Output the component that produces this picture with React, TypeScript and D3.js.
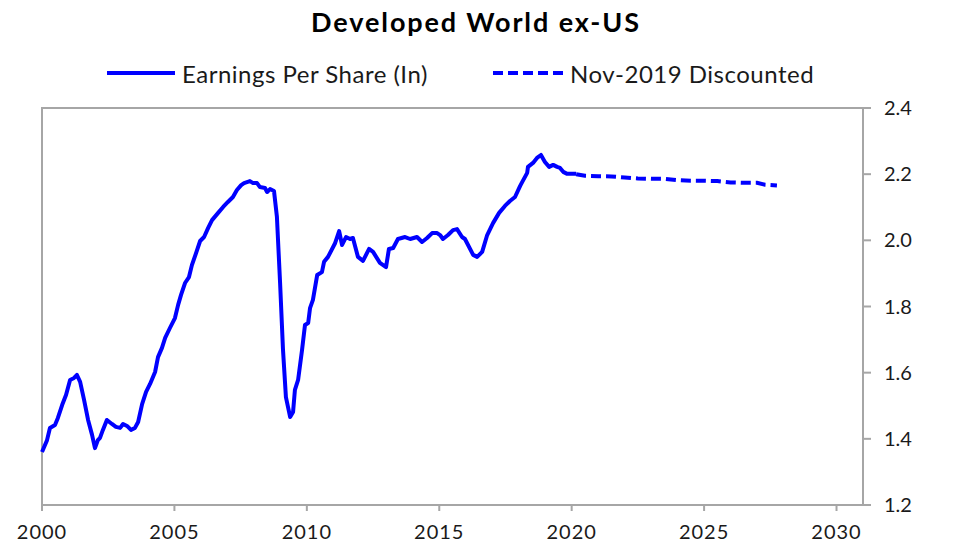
import React from "react";
import * as d3 from "d3";

// actual EPS (ln), decimal years
const epsYears = [
  2000.0, 2000.19, 2000.3, 2000.49, 2000.6, 2000.76, 2000.91, 2001.06, 2001.21, 2001.32,
  2001.44, 2001.59, 2001.74, 2001.89, 2002.0, 2002.11, 2002.19, 2002.3, 2002.45, 2002.64,
  2002.79, 2002.95, 2003.06, 2003.21, 2003.36, 2003.51, 2003.63, 2003.78, 2003.93, 2004.08,
  2004.27, 2004.38, 2004.53, 2004.65, 2004.83, 2005.02, 2005.14, 2005.25, 2005.4, 2005.55,
  2005.66, 2005.82, 2005.97, 2006.12, 2006.27, 2006.42, 2006.65, 2006.84, 2007.02, 2007.21,
  2007.36, 2007.52, 2007.63, 2007.85, 2007.97, 2008.12, 2008.23, 2008.42, 2008.5, 2008.61,
  2008.76, 2008.87, 2008.99, 2009.1, 2009.21, 2009.29, 2009.37, 2009.48, 2009.55, 2009.67,
  2009.82, 2009.93, 2010.05, 2010.12, 2010.23, 2010.39, 2010.57, 2010.65, 2010.8, 2011.07,
  2011.22, 2011.33, 2011.48, 2011.63, 2011.74, 2011.93, 2012.12, 2012.35, 2012.5, 2012.76,
  2012.99, 2013.1, 2013.26, 2013.44, 2013.71, 2013.9, 2014.16, 2014.35, 2014.54, 2014.73,
  2014.92, 2015.03, 2015.14, 2015.33, 2015.52, 2015.67, 2015.86, 2015.97, 2016.28, 2016.43,
  2016.62, 2016.81, 2017.03, 2017.26, 2017.48, 2017.67, 2017.86, 2018.05, 2018.13, 2018.32,
  2018.35, 2018.54, 2018.69, 2018.84, 2018.99, 2019.15, 2019.3, 2019.45, 2019.56, 2019.68,
  2019.83, 2020.17,
];
const epsValues = [
  1.36, 1.396, 1.433, 1.442, 1.463, 1.502, 1.533, 1.578, 1.584, 1.593,
  1.572, 1.517, 1.457, 1.412, 1.372, 1.396, 1.403, 1.427, 1.457, 1.445,
  1.436, 1.433, 1.445, 1.439, 1.427, 1.433, 1.451, 1.505, 1.542, 1.566,
  1.602, 1.647, 1.675, 1.705, 1.735, 1.765, 1.805, 1.835, 1.871, 1.889,
  1.925, 1.962, 1.998, 2.01, 2.037, 2.061, 2.083, 2.101, 2.116, 2.131,
  2.152, 2.167, 2.173, 2.179, 2.173, 2.173, 2.161, 2.158, 2.146, 2.155,
  2.149, 2.071, 1.871, 1.669, 1.526, 1.496, 1.466, 1.481, 1.548, 1.578,
  1.669, 1.744, 1.75, 1.795, 1.82, 1.895, 1.904, 1.935, 1.95, 1.992,
  2.028, 1.986, 2.01, 2.004, 2.007, 1.95, 1.938, 1.974, 1.965, 1.932,
  1.919, 1.974, 1.977, 2.004, 2.01, 2.004, 2.01, 1.995, 2.007, 2.022,
  2.022, 2.016, 2.004, 2.016, 2.031, 2.034, 2.01, 2.004, 1.956, 1.95,
  1.965, 2.016, 2.052, 2.083, 2.104, 2.119, 2.131, 2.164, 2.176, 2.204,
  2.222, 2.234, 2.249, 2.258, 2.237, 2.222, 2.228, 2.222, 2.219, 2.207,
  2.201, 2.201,
];

// Nov-2019 discounted projection
const projYears = [
  2020.17, 2020.5, 2021.0, 2021.5, 2022.0, 2022.5, 2023.0, 2023.5, 2024.0,
  2024.5, 2025.0, 2025.5, 2026.0, 2026.5, 2027.0, 2027.3, 2027.75,
];
const projValues = [
  2.2, 2.195, 2.194, 2.193, 2.19, 2.187, 2.186, 2.186, 2.182,
  2.18, 2.18, 2.179, 2.175, 2.174, 2.174, 2.168, 2.166,
];

const xTicks = [2000, 2005, 2010, 2015, 2020, 2025, 2030];
const yTicks = [1.2, 1.4, 1.6, 1.8, 2.0, 2.2, 2.4];

const W = 961;
const H = 549;
const left = 42;
const right = 863;
const top = 108;
const bottom = 505;
const axisColor = "#a6a6a6";
const lineColor = "#0000ff";
const textColor = "#1a1a1a";
const font = "Lato, 'Open Sans', sans-serif";

export default function App() {
  const x = d3.scaleLinear().domain([2000, 2031]).range([left, right]);
  const y = d3.scaleLinear().domain([1.2, 2.4]).range([bottom, top]);

  const lineGen = d3
    .line<[number, number]>()
    .x((d) => x(d[0]))
    .y((d) => y(d[1]));
  const epsPath = lineGen(epsYears.map((t, i) => [t, epsValues[i]]));
  const projPath = lineGen(projYears.map((t, i) => [t, projValues[i]]));

  return (
    <div style={{ position: "absolute", left: 0, top: 0 }}>
      <svg width={W} height={H} style={{ display: "block", background: "#fff" }}>
        <text
          x={476}
          y={32}
          textAnchor="middle"
          fontFamily={font}
          fontWeight="bold"
          fontSize={27}
          letterSpacing={1.9}
          fill="#000"
        >
          Developed World ex-US
        </text>

        {/* legend */}
        <line x1={107} x2={175} y1={73} y2={73} stroke={lineColor} strokeWidth={4} />
        <text x={182} y={83} fontFamily={font} fontSize={24} letterSpacing={0.5} fill={textColor}>
          Earnings Per Share (In)
        </text>
        <line
          x1={493}
          x2={563}
          y1={73}
          y2={73}
          stroke={lineColor}
          strokeWidth={4}
          strokeDasharray="10 5"
        />
        <text x={570} y={83} fontFamily={font} fontSize={24} letterSpacing={0.5} fill={textColor}>
          Nov-2019 Discounted
        </text>

        {/* frame */}
        <line x1={left} x2={right} y1={top} y2={top} stroke={axisColor} strokeWidth={2} />
        <line x1={left} x2={left} y1={top - 1} y2={bottom} stroke={axisColor} strokeWidth={2} />
        <line x1={right} x2={right} y1={top - 1} y2={bottom + 1} stroke={axisColor} strokeWidth={2} />
        <line x1={left - 1} x2={right + 1} y1={bottom} y2={bottom} stroke={axisColor} strokeWidth={2} />

        {xTicks.map((t) => (
          <g key={t}>
            <line x1={x(t)} x2={x(t)} y1={bottom} y2={bottom + 6} stroke={axisColor} strokeWidth={2} />
            <text
              x={x(t)}
              y={bottom + 34}
              textAnchor="middle"
              fontFamily={font}
              fontSize={20}
              letterSpacing={1}
              fill={textColor}
            >
              {t}
            </text>
          </g>
        ))}
        {yTicks.map((v) => (
          <g key={v}>
            <line x1={right} x2={right + 8} y1={y(v)} y2={y(v)} stroke={axisColor} strokeWidth={2} />
            <text x={884} y={y(v) + 7} fontFamily={font} fontSize={20} fill={textColor}>
              {v.toFixed(1)}
            </text>
          </g>
        ))}

        <path d={epsPath || ""} fill="none" stroke={lineColor} strokeWidth={4} strokeLinejoin="round" />
        <path
          d={projPath || ""}
          fill="none"
          stroke={lineColor}
          strokeWidth={4}
          strokeDasharray="10 5"
        />
      </svg>
    </div>
  );
}
